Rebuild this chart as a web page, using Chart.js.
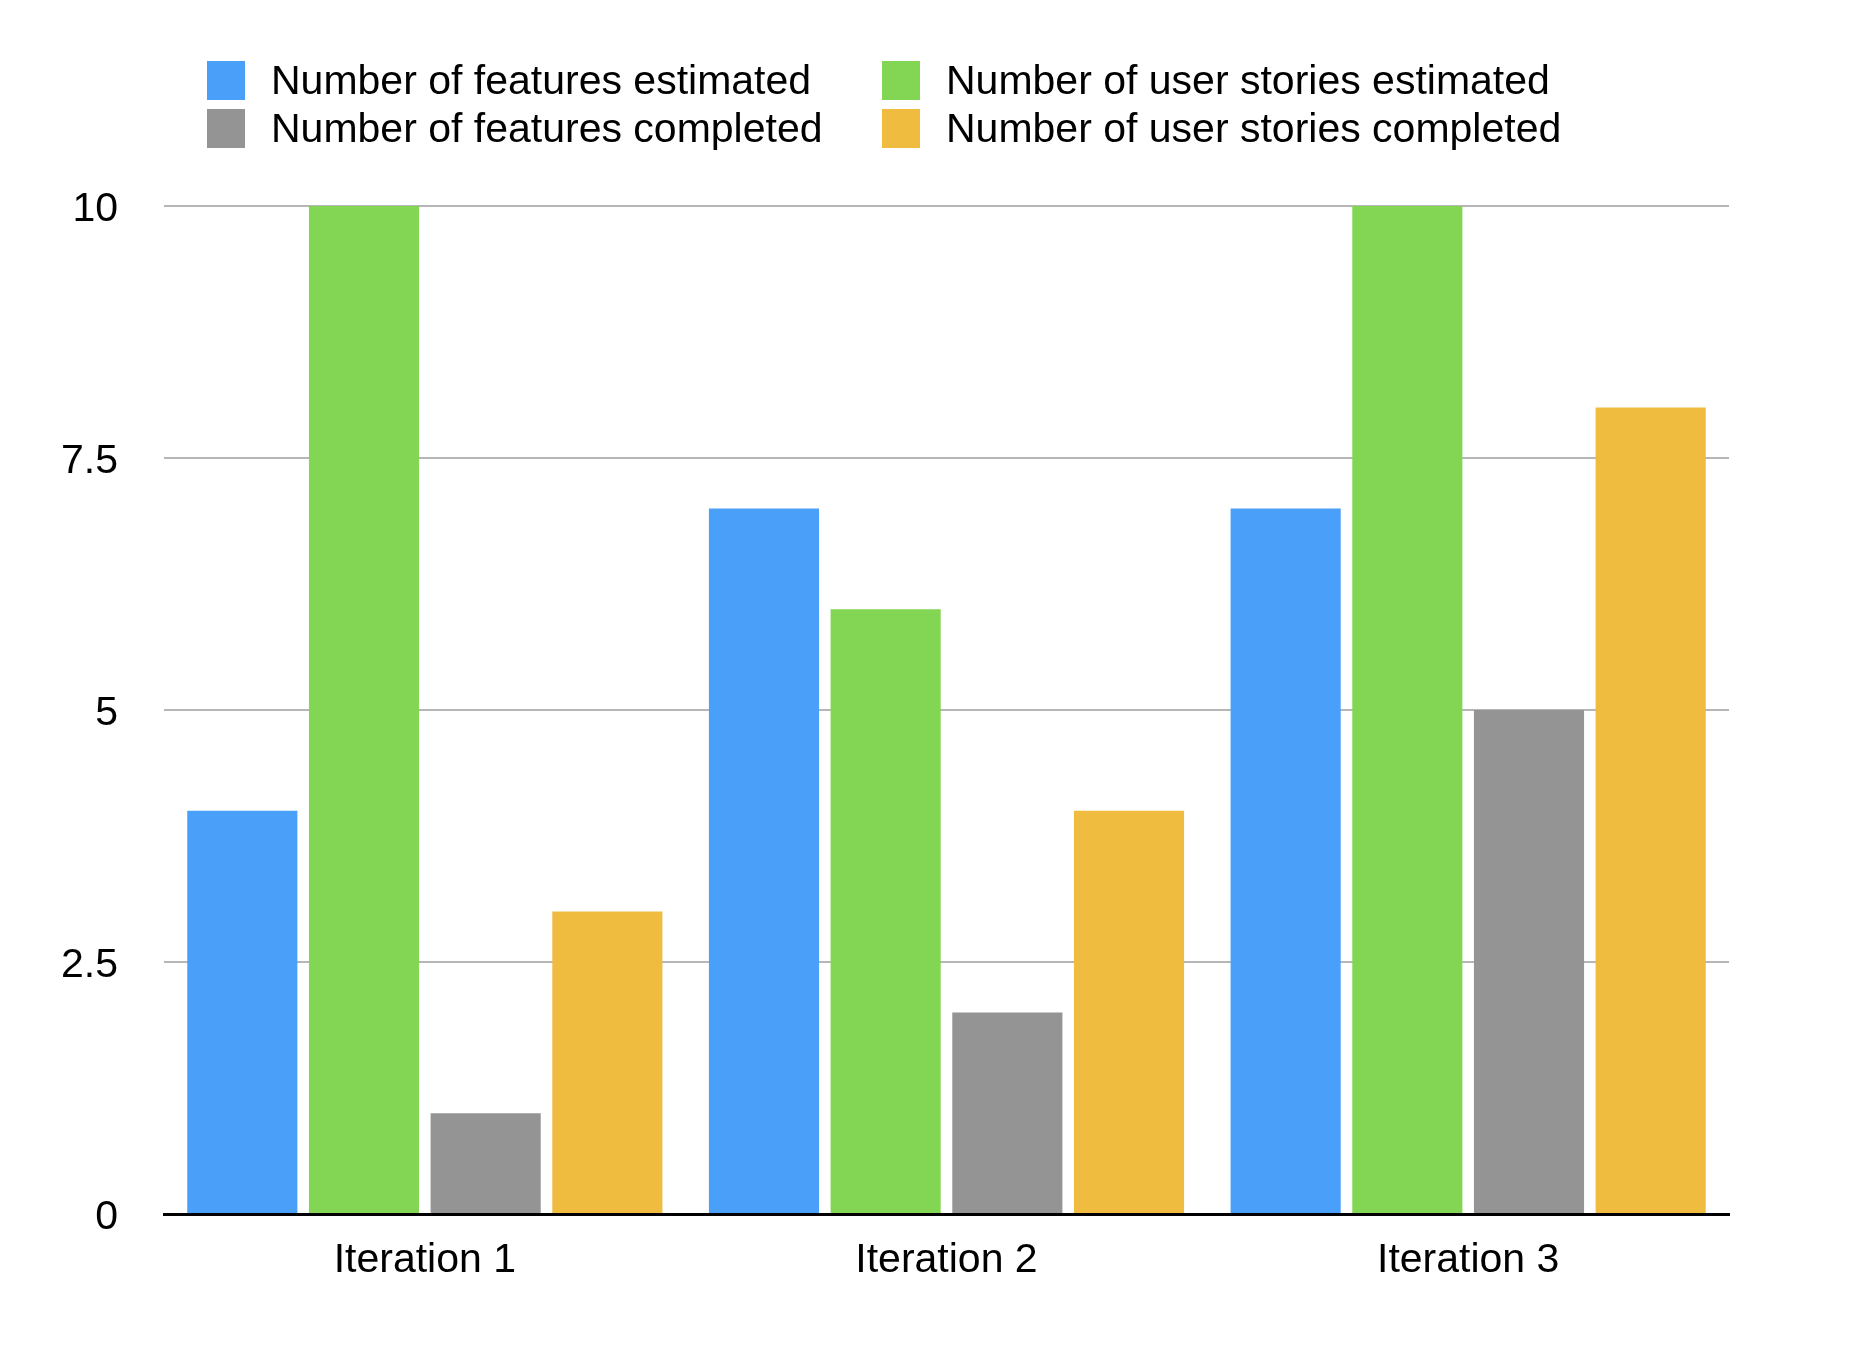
<!DOCTYPE html>
<html lang="en">
<head>
  <meta charset="UTF-8" />
  <title>Features and user stories per iteration</title>
  <script src="https://cdn.jsdelivr.net/npm/chart.js"></script>
  <style>
    * {
      box-sizing: border-box;
    }

    body {
      margin: 0;
      background: #ffffff;
      font-family: 'Liberation Sans', Arial, sans-serif;
    }

    .wrap {
      position: relative;
      width: 1866px;
      height: 1348px;
    }

    #legend {
      position: absolute;
      left: 207px;
      top: 56px;
      display: grid;
      grid-template-columns: 675px auto;
      grid-auto-rows: 48px;
      z-index: 2;
    }

    .legend-item {
      display: flex;
      align-items: center;
      font-size: 41px;
      color: #000;
      white-space: nowrap;
    }

    .legend-item span.box {
      width: 38px;
      height: 39px;
      margin-right: 26px;
      flex: none;
    }

    .chart-box {
      position: absolute;
      left: 0;
      top: 0;
      width: 1866px;
      height: 1348px;
    }
  </style>
</head>
<body>
  <div class="wrap">
    <div id="legend"></div>
    <div class="chart-box">
      <canvas id="iterChart"></canvas>
    </div>
  </div>

  <script>
    // values
    const iterations = ['Iteration 1', 'Iteration 2', 'Iteration 3'];
    const featuresEstimated = [4, 7, 7];
    const storiesEstimated = [10, 6, 10];
    const featuresCompleted = [1, 2, 5];
    const storiesCompleted = [3, 4, 8];
    const yTicks = [0, 2.5, 5, 7.5, 10];

    const seriesNames = [
      'Number of features estimated',
      'Number of user stories estimated',
      'Number of features completed',
      'Number of user stories completed'
    ];
    const seriesColors = ['#4a9ff9', '#83d653', '#949494', '#efbc40'];
    const seriesValues = [featuresEstimated, storiesEstimated, featuresCompleted, storiesCompleted];

    const fontFamily = "'Liberation Sans', Arial, sans-serif";

    const datasets = seriesNames.map((name, i) => ({
      label: name,
      data: seriesValues[i],
      backgroundColor: seriesColors[i],
      borderWidth: 0,
      categoryPercentage: 0.933,
      barPercentage: 0.905
    }));

    // html legend, two columns like the original
    const legendDiv = document.getElementById('legend');
    datasets.forEach(ds => {
      const item = document.createElement('div');
      item.className = 'legend-item';
      const box = document.createElement('span');
      box.className = 'box';
      box.style.background = ds.backgroundColor;
      item.appendChild(box);
      item.appendChild(document.createTextNode(ds.label));
      legendDiv.appendChild(item);
    });

    new Chart(document.getElementById('iterChart'), {
      type: 'bar',
      data: {
        labels: iterations,
        datasets: datasets
      },
      options: {
        responsive: true,
        maintainAspectRatio: false,
        animation: false,
        layout: {
          padding: { left: 0, right: 137, top: 206, bottom: 0 }
        },
        plugins: {
          legend: { display: false },
          tooltip: { enabled: false }
        },
        scales: {
          x: {
            grid: { display: false, drawTicks: false },
            border: { display: true, color: '#000000', width: 3 },
            ticks: {
              color: '#000000',
              font: { family: fontFamily, size: 41 },
              padding: 22
            },
            afterFit: (scale) => { scale.height = 134; }
          },
          y: {
            min: 0,
            max: 10,
            afterBuildTicks: (scale) => {
              scale.ticks = yTicks.map(v => ({ value: v }));
            },
            grid: { color: '#b6b6b6', lineWidth: 2, drawTicks: false },
            border: { display: false },
            ticks: {
              color: '#000000',
              font: { family: fontFamily, size: 41 },
              padding: 46,
              labelOffset: 4
            },
            afterFit: (scale) => { scale.width = 164; }
          }
        }
      }
    });
  </script>
</body>
</html>
